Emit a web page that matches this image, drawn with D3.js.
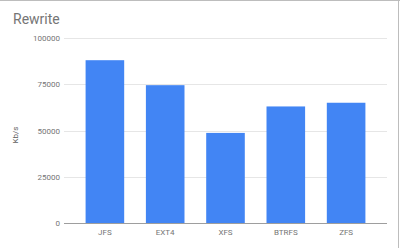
<!DOCTYPE html>
<html><head><meta charset="utf-8">
<script src="https://cdn.jsdelivr.net/npm/d3@7"></script>
<style>html,body{margin:0;padding:0;background:#fff;}svg{display:block;}</style>
</head><body>
<svg id="c" width="400" height="248"></svg>
<script>
const categories = ["JFS", "EXT4", "XFS", "BTRFS", "ZFS"];
const values = [88000, 74500, 48700, 63000, 65000];
const yTicks = [0, 25000, 50000, 75000, 100000];
const chartTitle = "Rewrite";
const yTitle = "Kb/s";

(function(){
const svg = d3.select("#c");
const font = "Roboto, 'Noto Sans', sans-serif";
const pLeft = 64, pRight = 387, pTop = 38, pBottom = 223;

// borders (top, right)
svg.append("line").attr("x1",0).attr("x2",400).attr("y1",0.5).attr("y2",0.5).attr("stroke","#bdbdbd");
svg.append("line").attr("x1",398.5).attr("x2",398.5).attr("y1",0).attr("y2",248).attr("stroke","#bdbdbd");

const y = d3.scaleLinear().domain([0, 100000]).range([pBottom, pTop]);
const x = d3.scaleBand().domain(categories).range([pLeft, pRight]).paddingInner(0.36).paddingOuter(0.358);

// gridlines
svg.append("g").selectAll("line").data(yTicks.filter(d=>d>0)).join("line")
  .attr("x1", pLeft).attr("x2", pRight)
  .attr("y1", d=>Math.round(y(d))+0.5).attr("y2", d=>Math.round(y(d))+0.5)
  .attr("stroke","#e6e6e6").attr("stroke-width",1);

// y tick labels
svg.append("g").selectAll("text").data(yTicks).join("text")
  .attr("x", 60).attr("y", d=>y(d)+3)
  .attr("text-anchor","end").attr("font-family",font).attr("font-size",8)
  .attr("fill","#757575").text(d=>d);

// bars
svg.append("g").selectAll("rect").data(values).join("rect")
  .attr("x",(d,i)=>x(categories[i])).attr("width",x.bandwidth())
  .attr("y",d=>y(d)).attr("height",d=>y(0)-y(d))
  .attr("fill","#4285f4");

// baseline
svg.append("line").attr("x1",pLeft).attr("x2",pRight).attr("y1",pBottom+0.5).attr("y2",pBottom+0.5)
  .attr("stroke","#9e9e9e").attr("stroke-width",1);

// x labels
svg.append("g").selectAll("text").data(categories).join("text")
  .attr("x", d=>x(d)+x.bandwidth()/2).attr("y", 235)
  .attr("text-anchor","middle").attr("font-family",font).attr("font-size",8)
  .attr("fill","#757575").text(d=>d);

// title
svg.append("text").attr("x",13).attr("y",24).attr("font-family",font).attr("font-size",14)
  .attr("fill","#757575").text(chartTitle);

// y title
svg.append("text").attr("transform","translate(18,135) rotate(-90)")
  .attr("text-anchor","middle").attr("font-family",font).attr("font-size",8)
  .attr("fill","#616161").text(yTitle);
})();
</script>
</body></html>
